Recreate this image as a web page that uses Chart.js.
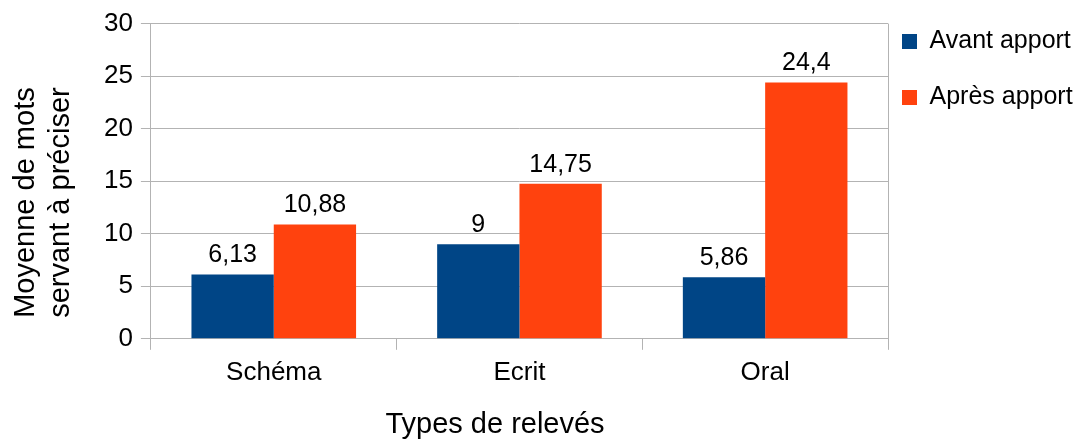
<!DOCTYPE html>
<html>
<head>
<meta charset="utf-8">
<script src="https://cdn.jsdelivr.net/npm/chart.js@4.4.1/dist/chart.umd.min.js"></script>
<style>
  html, body { margin: 0; padding: 0; background: #fff; }
  #wrap { width: 1076px; height: 439px; }
</style>
</head>
<body>
<div id="wrap"><canvas id="barchart"></canvas></div>
<script>
const categories = ['Schéma', 'Ecrit', 'Oral'];
const avantApport = [6.13, 9, 5.86];
const apresApport = [10.88, 14.75, 24.4];
const yTicks = [0, 5, 10, 15, 20, 25, 30];

const xTitle = 'Types de relevés';
const yTitle = ['Moyenne de mots', 'servant à préciser'];

const FONT = '"Liberation Sans", Arial, sans-serif';
const gridColor = '#b3b3b3';

// labels above bars, with comma decimals
const valueLabels = {
  id: 'valueLabels',
  afterDatasetsDraw(chart) {
    const c = chart.ctx;
    c.save();
    c.font = '25px ' + FONT;
    c.fillStyle = '#000';
    c.textAlign = 'center';
    c.textBaseline = 'alphabetic';
    chart.data.datasets.forEach((ds, i) => {
      chart.getDatasetMeta(i).data.forEach((bar, j) => {
        c.fillText(String(ds.data[j]).replace('.', ','), bar.x, bar.y - 12);
      });
    });
    c.restore();
  }
};

// right edge of the plot frame + axis titles
// (titles drawn by hand: the y one has its lines left aligned, not centred)
const frameAndTitles = {
  id: 'frameAndTitles',
  beforeDatasetsDraw(chart) {
    const a = chart.chartArea;
    const c = chart.ctx;
    c.save();
    c.strokeStyle = gridColor;
    c.lineWidth = 1;
    c.beginPath();
    c.moveTo(Math.round(a.right) + 0.5, a.top);
    c.lineTo(Math.round(a.right) + 0.5, a.bottom);
    c.stroke();
    c.restore();
  },
  afterDraw(chart) {
    const a = chart.chartArea;
    const c = chart.ctx;
    c.save();
    c.fillStyle = '#000';
    c.font = '29px ' + FONT;
    c.textBaseline = 'alphabetic';
    c.textAlign = 'center';
    c.fillText(xTitle, 495, 433);
    c.textAlign = 'left';
    yTitle.forEach((line, i) => {
      c.save();
      c.translate(34 + i * 35, a.bottom - 21);
      c.rotate(-Math.PI / 2);
      c.fillText(line, 0, 0);
      c.restore();
    });
    c.restore();
  }
};

// legend sits closer to the plot and higher than chart.js puts it
const legendShift = {
  id: 'legendShift',
  afterLayout(chart) {
    const lg = chart.legend;
    lg.left -= 17; lg.width += 17;
    lg.top -= 10; lg.bottom -= 10;
  }
};

new Chart(document.getElementById('barchart'), {
  type: 'bar',
  data: {
    labels: categories,
    datasets: [{
      label: 'Avant apport',
      data: avantApport,
      backgroundColor: '#004586'
    }, {
      label: 'Après apport',
      data: apresApport,
      backgroundColor: '#ff420e'
    }]
  },
  options: {
    responsive: true,
    maintainAspectRatio: false,
    animation: false,
    categoryPercentage: 0.67,
    barPercentage: 1.0,
    layout: { padding: { left: 96, top: 8, right: 0, bottom: 44 } },
    plugins: {
      tooltip: { enabled: false },
      legend: {
        position: 'right',
        align: 'start',
        maxWidth: 188,
        labels: {
          font: { family: FONT, size: 25 },
          color: '#000',
          boxWidth: 15,
          boxHeight: 15,
          padding: 31
        }
      }
    },
    scales: {
      x: {
        grid: {
          offset: true,
          drawOnChartArea: false,
          color: gridColor,
          tickLength: 11
        },
        border: { color: gridColor },
        ticks: {
          font: { family: FONT, size: 26 },
          color: '#000',
          padding: 7
        }
      },
      y: {
        min: 0,
        max: 30,
        afterBuildTicks(axis) {
          axis.ticks = yTicks.map(v => ({ value: v }));
        },
        grid: { color: gridColor, tickLength: 10 },
        border: { color: gridColor },
        ticks: {
          font: { family: FONT, size: 26 },
          color: '#000',
          padding: 8
        }
      }
    }
  },
  plugins: [valueLabels, frameAndTitles, legendShift]
});
</script>
</body>
</html>
